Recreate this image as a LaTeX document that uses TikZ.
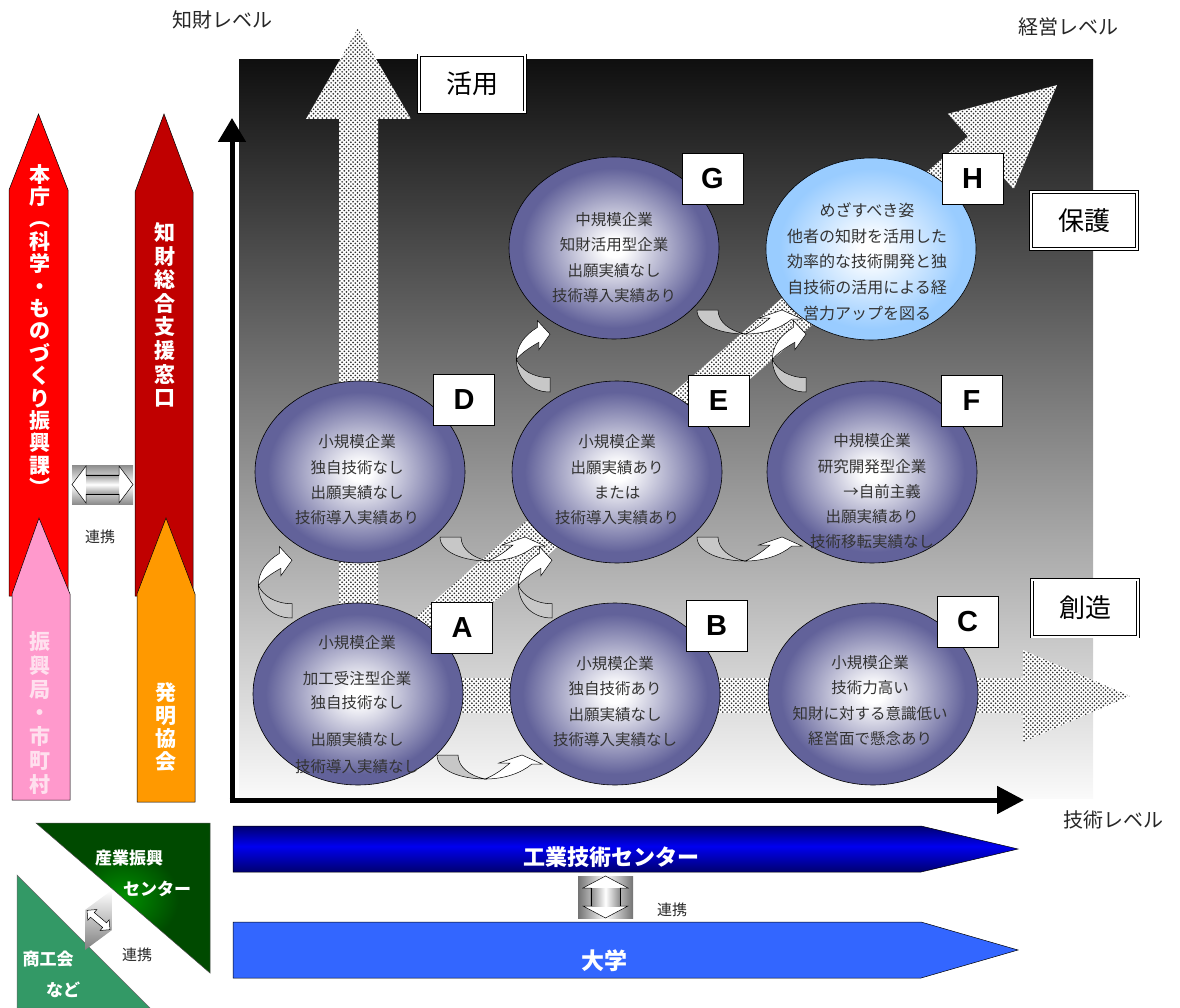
\documentclass[tikz,border=0pt]{standalone}
\usepackage{fontspec}
\setmainfont{Noto Sans CJK JP}
\newfontfamily\latf{Liberation Sans}
\usetikzlibrary{patterns,arrows.meta,shapes.geometric}

\definecolor{ballc}{HTML}{62629A}
\definecolor{ballh}{HTML}{99CCFF}
\definecolor{navyd}{HTML}{000070}
\definecolor{brightb}{HTML}{0000F0}
\definecolor{univb}{HTML}{3366FF}
\definecolor{redA}{HTML}{FF0000}
\definecolor{dredA}{HTML}{C00000}
\definecolor{pinkA}{HTML}{FF99CC}
\definecolor{orangeA}{HTML}{FF9900}
\definecolor{dgreen}{HTML}{004A00}
\definecolor{mgreen}{HTML}{009000}
\definecolor{sgreen}{HTML}{339966}
\definecolor{txtg}{HTML}{333333}
\definecolor{pinktxt}{HTML}{FFE0EE}

\pgfdeclareradialshading{ballshade}{\pgfpoint{0bp}{0bp}}{color(0bp)=(white); color(2.5bp)=(white); color(22bp)=(ballc); color(25bp)=(ballc); color(50bp)=(ballc)}
\pgfdeclareradialshading{hshade}{\pgfpoint{0bp}{0bp}}{color(0bp)=(white); color(2.5bp)=(white); color(22bp)=(ballh); color(25bp)=(ballh); color(50bp)=(ballh)}
\pgfdeclareverticalshading{bgshade}{100bp}{color(0bp)=(white!98!black); color(25bp)=(white!98!black); color(75bp)=(black!94); color(100bp)=(black!94)}
\pgfdeclareverticalshading{navyshade}{100bp}{color(0bp)=(navyd); color(25bp)=(navyd); color(53bp)=(brightb); color(75bp)=(navyd); color(100bp)=(navyd)}
\pgfdeclareradialshading{greenshade}{\pgfpoint{0bp}{0bp}}{color(0bp)=(mgreen); color(16bp)=(dgreen); color(50bp)=(dgreen)}
\pgfdeclarepatternformonly{mydots}{\pgfqpoint{-1pt}{-1pt}}{\pgfqpoint{5.4pt}{5.4pt}}{\pgfqpoint{4.4pt}{4.4pt}}{\pgfpathcircle{\pgfqpoint{1.1pt}{1.1pt}}{0.95pt}\pgfpathcircle{\pgfqpoint{3.3pt}{3.3pt}}{0.95pt}\pgfusepath{fill}}

\tikzset{
 carr/.pic={
  \filldraw[fill=black!22, draw=black, line width=0.5pt] (0,0) -- (21,0) .. controls (21,12) and (33,21) .. (48,24) .. controls (25,24) and (0,16) .. (0,0) -- cycle;
  \filldraw[fill=white, draw=black, line width=0.5pt] (48,24) .. controls (68,24) and (84,18) .. (95,9) -- (105,9) -- (85,0) -- (62,8) -- (73,8) .. controls (66,14) and (58,20) .. (48,24) -- cycle;
 }
}

\begin{document}
\begin{tikzpicture}[x=1pt,y=-1pt,
  ball/.style={ellipse, draw=black, line width=0.6pt, shade, shading=ballshade, minimum width=210pt, minimum height=182pt, inner sep=0pt},
  balltxt/.style={text=txtg, align=center, font=\fontsize{15.5}{25.3}\selectfont, inner sep=0pt},
  letterbox/.style={draw=black, fill=white, line width=0.8pt, minimum width=61pt, minimum height=51pt, inner sep=0pt, font=\latf\bfseries\fontsize{29}{29}\selectfont},
  lblbox/.style={draw=black, fill=white, double=white, double distance=2pt, line width=0.7pt, minimum width=106pt, minimum height=57pt, inner sep=0pt, font=\fontsize{26}{26}\selectfont},
  lvl/.style={font=\fontsize{20}{20}\selectfont, text=black!85},
  renkei/.style={font=\fontsize{15}{15}\selectfont, text=black!85},
  vtxt/.style={text=white, align=center, inner sep=0pt},
  dotarr/.style={fill=white, postaction={pattern=mydots, pattern color=black!80}},
  vcarr/.style={cm={0,1,1,0,(0,0)}, xscale=0.68, yscale=1.4},
]
\useasboundingbox (0,0) rectangle (1180,1008);

% background
\shade[shading=bgshade] (239,60) rectangle (1093,798);

% dotted big arrows
\begin{scope}[shift={(358,694)}, rotate=41.06]
\path[dotarr] (0,-20) -- (826,-20) -- (826,-50) -- (927,0) -- (826,50) -- (826,20) -- (0,20) -- cycle;
\end{scope}
\path[dotarr] (339,700) -- (339,119) -- (306,119) -- (358,28) -- (411,119) -- (378,119) -- (378,700) -- cycle;
\path[dotarr] (358,678) -- (1023,678) -- (1023,650) -- (1130,696) -- (1023,742) -- (1023,713) -- (358,713) -- cycle;

% axes
\coordinate (o) at (232,800);
\coordinate (ytip) at (232,118);
\coordinate (xtip) at (1024,800);
\draw[line width=5pt, -{Triangle[length=24pt,width=27pt]}] ([yshift=2.5pt]o) -- (ytip);
\draw[line width=5pt, -{Triangle[length=27pt,width=27pt]}] ([xshift=-2.5pt]o) -- (xtip);

% level labels
\node[lvl] (lv1) at (222,20) {知財レベル};
\node[lvl] (lv2) at (1068,27) {経営レベル};
\node[lvl] (lv3) at (1113,820) {技術レベル};

% stage labels
\node[lblbox] (katsu) at (472,84) {活用};
\node[lblbox] (hogo) at (1084,220.5) {保護};
\node[lblbox] (sozo) at (1085,608) {創造};

% ellipses
\node[ball] (A) at (358,694) {};
\node[ball] (B) at (615,694) {};
\node[ball] (C) at (873,694) {};
\node[ball] (D) at (360,472) {};
\node[ball] (E) at (617,472) {};
\node[ball] (F) at (872,472) {};
\node[ball] (G) at (614,248) {};
\node[ball, shading=hshade] (H) at (871,249) {};

% curved arrows (horizontal)
\pic at (437,755) {carr};
\pic at (440,537) {carr};
\pic at (697,537) {carr};
\pic at (697,310) {carr};
% curved arrows (vertical)
\begin{scope}[shift={(292,618)}, vcarr]\pic[transform shape] {carr};\end{scope}
\begin{scope}[shift={(552,618)}, vcarr]\pic[transform shape] {carr};\end{scope}
\begin{scope}[shift={(550,392)}, vcarr]\pic[transform shape] {carr};\end{scope}
\begin{scope}[shift={(806,392)}, vcarr]\pic[transform shape] {carr};\end{scope}

% ellipse texts
\node[balltxt] (tA) at (357,704.5) {小規模企業\\[11pt]加工受注型企業\\[-1pt]独自技術なし\\[11pt]出願実績なし\\[2pt]技術導入実績なし};
\node[balltxt] (tB) at (615,701.5) {小規模企業\\独自技術あり\\出願実績なし\\技術導入実績なし};
\node[balltxt] (tC) at (870,700.5) {小規模企業\\技術力高い\\知財に対する意識低い\\経営面で懸念あり};
\node[balltxt] (tD) at (357,480) {小規模企業\\独自技術なし\\出願実績なし\\技術導入実績あり};
\node[balltxt] (tE) at (617,480) {小規模企業\\出願実績あり\\または\\技術導入実績あり};
\node[balltxt] (tF) at (872,491.5) {中規模企業\\研究開発型企業\\\hspace*{20pt}→自前主義\\出願実績あり\\技術移転実績なし};
\node[balltxt] (tG) at (614,257.5) {中規模企業\\知財活用型企業\\出願実績なし\\技術導入実績あり};
\node[balltxt, font=\fontsize{16}{25.7}\selectfont] (tH) at (867,261.5) {めざすべき姿\\他者の知財を活用した\\効率的な技術開発と独\\自技術の活用による経\\営力アップを図る};

% letter boxes
\node[letterbox] (lA) at (462,627.5) {A};
\node[letterbox] (lB) at (716.5,625.5) {B};
\node[letterbox] (lC) at (967.5,621.5) {C};
\node[letterbox] (lD) at (464,399.5) {D};
\node[letterbox] (lE) at (718.5,400.5) {E};
\node[letterbox] (lF) at (971.5,400.5) {F};
\node[letterbox] (lG) at (712.5,178.5) {G};
\node[letterbox] (lH) at (972.5,178.5) {H};

% left vertical arrows
\filldraw[fill=redA, draw=black, line width=0.5pt] (9,596) -- (9,190) -- (38.5,114) -- (68,190) -- (68,596) -- cycle;
\filldraw[fill=dredA, draw=black, line width=0.5pt] (135,596) -- (135,192) -- (164,114) -- (193,192) -- (193,596) -- cycle;
\filldraw[fill=pinkA, draw=black, line width=0.5pt] (12,800) -- (12,594) -- (39,518) -- (70,594) -- (70,800) -- cycle;
\filldraw[fill=orangeA, draw=black, line width=0.5pt] (137,802) -- (137,594) -- (166,518) -- (195,594) -- (195,802) -- cycle;
\node[vtxt, font=\bfseries\fontsize{21}{22.4}\selectfont] (honcho) at (40,330) {本\\庁\\︵\\科\\学\\・\\も\\の\\づ\\く\\り\\振\\興\\課\\︶};
\node[vtxt, font=\bfseries\fontsize{21}{23.6}\selectfont] (chizai) at (165,315) {知\\財\\総\\合\\支\\援\\窓\\口};
\node[vtxt, text=pinktxt, font=\bfseries\fontsize{21}{23.7}\selectfont] (shinko) at (40,713) {振\\興\\局\\・\\市\\町\\村};
\node[vtxt, font=\bfseries\fontsize{21}{23}\selectfont] (hatsumei) at (166,727) {発\\明\\協\\会};

% left link arrow
\shade[top color=black!45, bottom color=black!45, middle color=white] (72,465) rectangle (133,504);
\filldraw[fill=white, draw=black, line width=0.5pt] (72,484.5) -- (86,466) -- (86,475) -- (119,475) -- (119,466) -- (133,484.5) -- (119,503) -- (119,494) -- (86,494) -- (86,503) -- cycle;
\shade[top color=black!40, bottom color=black!40, middle color=white] (86,475) rectangle (119,494);
\draw[line width=0.5pt] (86,475) -- (119,475) (86,494) -- (119,494);
\node[renkei] (rk1) at (100,537) {連携};

% bottom bars
\shade[shading=navyshade] (233,826) -- (921,826) -- (1018,849) -- (921,872) -- (233,872) -- cycle;
\draw[black, line width=0.5pt] (233,826) -- (921,826) -- (1018,849) -- (921,872) -- (233,872) -- cycle;
\node[text=white, font=\bfseries\fontsize{22}{22}\selectfont] (kogyo) at (611,857) {工業技術センター};
\filldraw[fill=univb, draw=black, line width=0.5pt] (233,922) -- (921,922) -- (1018,950) -- (921,978) -- (233,978) -- cycle;
\node[text=white, font=\bfseries\fontsize{23}{23}\selectfont] (daigaku) at (604,961) {大学};

% bottom link arrow
\shade[left color=black!55, right color=black!55, middle color=white] (578,876) rectangle (633,918);
\filldraw[fill=white, draw=black, line width=0.5pt] (605.5,876) -- (628,888) -- (620,888) -- (620,906) -- (628,906) -- (605.5,918) -- (583,906) -- (591,906) -- (591,888) -- (583,888) -- cycle;
\shade[left color=black!45, right color=black!45, middle color=white] (591,888) rectangle (620,906);
\draw[line width=0.5pt] (591,888) -- (591,906) (620,888) -- (620,906);
\node[renkei] (rk2) at (672,910) {連携};

% bottom-left triangles
\shade[shading=greenshade] (36,823) -- (210,823) -- (210,973) -- cycle;
\draw[black!70, line width=0.5pt] (36,823) -- (210,823) -- (210,973) -- cycle;
\filldraw[fill=sgreen, draw=black!60, line width=0.5pt] (17,875) -- (17,1008) -- (150,1008) -- cycle;
\node[text=white, font=\bfseries\fontsize{17}{17}\selectfont] (sangyo) at (129,858) {産業振興};
\node[text=white, font=\bfseries\fontsize{17}{17}\selectfont] (center) at (157,889) {センター};
\node[text=white, font=\bfseries\fontsize{17}{17}\selectfont] (shoko) at (48,959) {商工会};
\node[text=white, font=\bfseries\fontsize{17}{17}\selectfont] (nado) at (63,990) {など};

% bottom-left link
\shade[top color=white, bottom color=black!50] (85,910) -- (112,890) -- (112,930) -- (85,950) -- cycle;
\begin{scope}[shift={(98.5,920)}, rotate=-40]
\draw[line width=0.5pt, fill=white] (-15,0) -- (-8,-7) -- (-8,-3) -- (8,-3) -- (8,-7) -- (15,0) -- (8,7) -- (8,3) -- (-8,3) -- (-8,7) -- cycle;
\end{scope}
\node[renkei] (rk3) at (137,955) {連携};

\end{tikzpicture}
\end{document}
